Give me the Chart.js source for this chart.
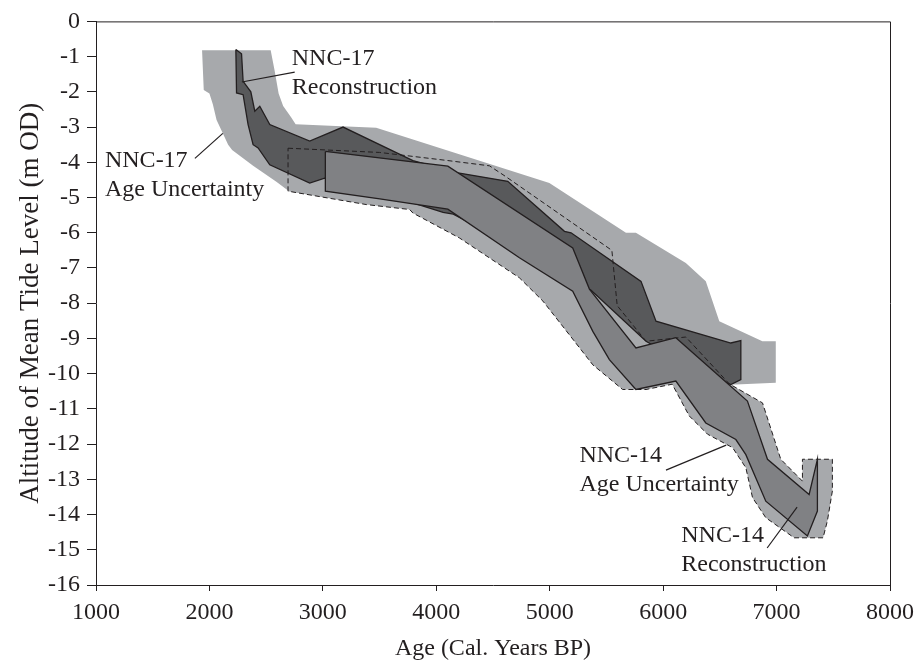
<!DOCTYPE html>
<html>
<head>
<meta charset="utf-8">
<script src="https://cdn.jsdelivr.net/npm/chart.js@4.4.1/dist/chart.umd.min.js"></script>
<style>
  body { margin: 0; background: #fff; }
  canvas { display: block; }
</style>
</head>
<body>
<canvas id="myChart" width="921" height="668"></canvas>
<script>
// outlines, [age cal. yr BP, altitude m OD]
const nnc17Uncertainty = [
  [1935, -0.82], [2540, -0.82], [2575, -1.4], [2610, -2.05], [2650, -2.4],
  [2720, -2.72], [2760, -2.92], [3470, -3.02], [4997, -4.59], [5672, -6.0],
  [5760, -6.0], [6200, -6.86], [6376, -7.38], [6495, -8.51], [6875, -9.08],
  [6993, -9.08], [6993, -10.26], [6640, -10.31], [6300, -10.3], [5900, -9.9],
  [5500, -9.3], [5200, -8.4], [4700, -7.0], [4100, -5.5], [3400, -5.0],
  [2693, -4.8], [2590, -4.55], [2385, -4.1], [2200, -3.65], [2165, -3.5],
  [2121, -3.2], [2063, -2.8], [2030, -2.35], [2000, -2.05], [1950, -1.95],
  [1935, -0.82],
];

const nnc14Uncertainty = [
  [2693, -3.6], [3500, -3.72], [4100, -3.95], [4469, -4.1], [4610, -4.4],
  [5548, -6.5], [5595, -8.07], [5849, -9.08], [6200, -8.96], [6583, -10.29],
  [6876, -10.83], [7037, -12.43], [7228, -13.05], [7228, -12.43], [7492, -12.43],
  [7492, -13.33], [7448, -14.18], [7410, -14.66], [7155, -14.66], [6905, -14.09],
  [6788, -13.52], [6729, -12.67], [6612, -12.1], [6392, -11.72], [6230, -11.2],
  [6080, -10.3], [5849, -10.45], [5643, -10.45], [5380, -9.75], [5174, -8.9],
  [4940, -7.94], [4733, -7.28], [4205, -6.15], [3794, -5.44], [3765, -5.34],
  [3383, -5.2], [2693, -4.82], [2693, -3.6],
];

const nnc17Reconstruction = [
  [2233, -0.8], [2283, -0.92], [2297, -1.7], [2365, -2.0], [2400, -2.55],
  [2444, -2.41], [2532, -2.93], [2884, -3.4], [3178, -3.0], [3794, -3.95],
  [4190, -4.3], [4630, -4.54], [5130, -5.96], [5188, -6.0], [5805, -7.38],
  [5937, -8.51], [6597, -9.13], [6685, -9.06], [6685, -10.17], [6597, -10.31],
  [6300, -9.9], [5849, -9.08], [5360, -7.62], [4700, -6.4], [4150, -5.47],
  [4060, -5.42], [3794, -5.15], [3016, -4.45], [2884, -4.59], [2532, -4.07],
  [2429, -3.59], [2385, -3.5], [2341, -2.93], [2297, -2.08], [2239, -2.03],
  [2233, -0.8],
];

const nnc14Reconstruction = [
  [3022, -3.69], [4102, -4.11], [5203, -6.43], [5350, -7.6], [5760, -9.27],
  [6112, -8.98], [6743, -10.78], [6920, -12.43], [7287, -13.43], [7360, -12.43],
  [7360, -13.9], [7272, -14.61], [6905, -13.62], [6729, -12.3], [6641, -11.87],
  [6376, -11.4], [6112, -10.21], [5760, -10.45], [5526, -9.6], [5380, -8.8],
  [5203, -7.66], [4733, -6.71], [4102, -5.33], [3502, -5.04], [3022, -4.82],
  [3022, -3.69],
];

const xTicks = [1000, 2000, 3000, 4000, 5000, 6000, 7000, 8000];
const yTicks = [0, -1, -2, -3, -4, -5, -6, -7, -8, -9, -10, -11, -12, -13, -14, -15, -16];

// callout text and leader lines, in axis units
const callouts = [
  { lines: ["NNC-17", "Reconstruction"], at: [2726, -1.25], leader: [[2286, -1.72], [2752, -1.44]] },
  { lines: ["NNC-17", "Age Uncertainty"], at: [1079, -4.14], leader: [[1872, -3.89], [2118, -3.18]] },
  { lines: ["NNC-14", "Age Uncertainty"], at: [5262, -12.51], leader: [[6025, -12.74], [6556, -12.03]] },
  { lines: ["NNC-14", "Reconstruction"], at: [6160, -14.78], leader: [[6917, -14.95], [7181, -13.79]] },
];

const FONT = '"Liberation Serif", "Times New Roman", serif';
const INK = "#231f20";

const pts = (arr) => arr.map(([x, y]) => ({ x, y }));

const frameAndCallouts = {
  id: "frameAndCallouts",
  afterDatasetsDraw(chart) {
    const { ctx, chartArea: a, scales } = chart;
    ctx.save();
    ctx.strokeStyle = INK;
    ctx.lineWidth = 1;
    ctx.beginPath();
    ctx.moveTo(a.left, a.top + 0.5);
    ctx.lineTo(a.right + 0.5, a.top + 0.5);
    ctx.lineTo(a.right + 0.5, a.bottom);
    ctx.stroke();

    ctx.fillStyle = INK;
    ctx.font = "24px " + FONT;
    ctx.textAlign = "left";
    ctx.textBaseline = "alphabetic";
    callouts.forEach((c) => {
      const x = scales.x.getPixelForValue(c.at[0]);
      const y = scales.y.getPixelForValue(c.at[1]);
      c.lines.forEach((t, i) => ctx.fillText(t, x, y + i * 29));
      ctx.beginPath();
      c.leader.forEach(([lx, ly], i) => {
        const px = scales.x.getPixelForValue(lx);
        const py = scales.y.getPixelForValue(ly);
        if (i === 0) ctx.moveTo(px, py);
        else ctx.lineTo(px, py);
      });
      ctx.lineWidth = 1.2;
      ctx.stroke();
    });
    ctx.restore();
  },
};

function createChart() {
  const ctx = document.getElementById("myChart").getContext("2d");
  new Chart(ctx, {
    type: "scatter",
    data: {
      datasets: [
        {
          label: "NNC-17 Age Uncertainty",
          data: pts(nnc17Uncertainty),
          showLine: true,
          fill: "shape",
          backgroundColor: "#a7a9ac",
          borderWidth: 0,
          pointRadius: 0,
          order: 7,
        },
        {
          label: "NNC-14 Age Uncertainty",
          data: pts(nnc14Uncertainty),
          showLine: true,
          fill: "shape",
          backgroundColor: "#a7a9ac",
          borderWidth: 0,
          pointRadius: 0,
          order: 6,
        },
        {
          label: "NNC-17 Reconstruction",
          data: pts(nnc17Reconstruction),
          showLine: true,
          fill: "shape",
          backgroundColor: "#58595b",
          borderColor: INK,
          borderWidth: 1.3,
          pointRadius: 0,
          order: 5,
        },
        {
          label: "NNC-14 Age Uncertainty outline",
          data: pts(nnc14Uncertainty),
          showLine: true,
          fill: false,
          borderColor: INK,
          borderWidth: 1,
          borderDash: [5, 3],
          pointRadius: 0,
          order: 4,
        },
        {
          label: "NNC-14 Reconstruction",
          data: pts(nnc14Reconstruction),
          showLine: true,
          fill: "shape",
          backgroundColor: "#808184",
          borderColor: INK,
          borderWidth: 1.3,
          pointRadius: 0,
          order: 3,
        },
      ],
    },
    options: {
      responsive: false,
      animation: false,
      layout: { padding: { top: 21, right: 30, left: 0, bottom: 0 } },
      plugins: {
        legend: { display: false },
        tooltip: { enabled: false },
      },
      scales: {
        x: {
          type: "linear",
          min: 1000,
          max: 8000,
          afterFit: (s) => { s.height = 83; },
          afterBuildTicks: (s) => { s.ticks = xTicks.map((v) => ({ value: v })); },
          ticks: {
            color: INK,
            font: { family: FONT, size: 24 },
            padding: 7,
            maxRotation: 0,
            callback: (v) => String(v),
          },
          grid: { drawOnChartArea: false, drawTicks: true, tickLength: 6, color: INK },
          border: { display: true, color: INK, width: 1 },
          title: {
            display: true,
            text: "Age (Cal. Years BP)",
            color: INK,
            font: { family: FONT, size: 24 },
            padding: { top: 0, bottom: 5 },
          },
        },
        y: {
          type: "linear",
          min: -16,
          max: 0,
          afterFit: (s) => { s.width = 96; },
          afterBuildTicks: (s) => { s.ticks = yTicks.map((v) => ({ value: v })); },
          ticks: {
            color: INK,
            font: { family: FONT, size: 24 },
            padding: 7,
            callback: (v) => String(v),
          },
          grid: { drawOnChartArea: false, drawTicks: true, tickLength: 9, color: INK },
          border: { display: true, color: INK, width: 1 },
          title: {
            display: true,
            text: "Altitude of Mean Tide Level (m OD)",
            color: INK,
            font: { family: FONT, size: 27 },
            padding: { top: 15, bottom: 0 },
          },
        },
      },
    },
    plugins: [frameAndCallouts],
  });
}

createChart();
</script>
</body>
</html>
